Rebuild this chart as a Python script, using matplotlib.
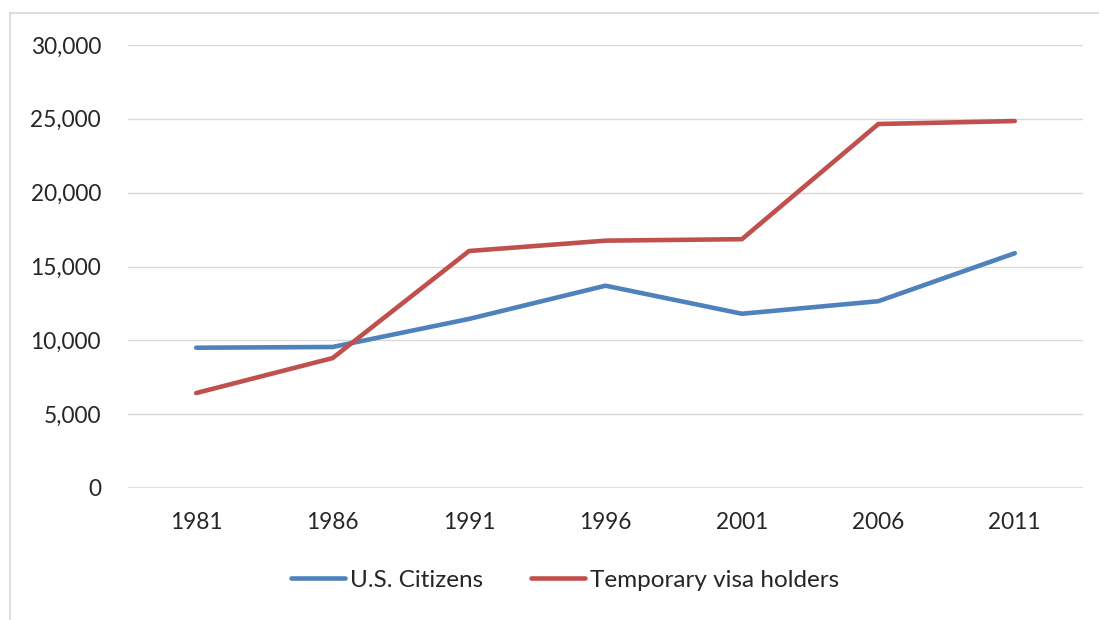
import numpy as np
import matplotlib
matplotlib.use("Agg")
from matplotlib import pyplot as plt
from matplotlib.lines import Line2D
from matplotlib.ticker import FuncFormatter

years = ["1981", "1986", "1991", "1996", "2001", "2006", "2011"]
us_citizens = [9500, 9550, 11450, 13700, 11800, 12650, 15900]
visa_holders = [6430, 8800, 16050, 16750, 16850, 24650, 24850]
series_names = ["U.S. Citizens", "Temporary visa holders"]

plt.rcParams['font.family'] = ['Lato', 'DejaVu Sans']

fig = plt.figure(figsize=(10.99, 6.2), dpi=100)
ax = fig.add_axes([128/1099, 1-488/620, (1083-128)/1099, (488-45)/620])

x = np.arange(len(years))
ax.plot(x, us_citizens, color="#4F81BD", lw=3.3, solid_capstyle="round", label=series_names[0])
ax.plot(x, visa_holders, color="#C0504D", lw=3.3, solid_capstyle="round", label=series_names[1])

ax.set_xlim(-0.5, len(years) - 0.5)
ax.set_ylim(0, 30000)
ax.set_yticks(np.arange(0, 30001, 5000))
ax.yaxis.set_major_formatter(FuncFormatter(lambda v, p: "{:,.0f}".format(v)))
ax.set_xticks(x)
ax.set_xticklabels(years)

for s in ax.spines.values():
    s.set_visible(False)
ax.grid(axis="y", color="#d9d9d9", lw=1.0)
ax.set_axisbelow(True)
ax.axhline(0, color="#d9d9d9", lw=1.8, zorder=1)
ax.tick_params(length=0, labelsize=16.3, colors="#262626")
ax.tick_params(axis="y", pad=19.5)
ax.tick_params(axis="x", pad=17)

ax.legend(loc="center", bbox_to_anchor=(565/1099, 1-580/620), bbox_transform=fig.transFigure,
          ncol=2, frameon=False, fontsize=17.5, handlelength=2.2, handletextpad=0.2,
          columnspacing=2.0, labelcolor="#262626")

# chart border (top and left visible)
fig.add_artist(Line2D([10/1099, 1.0], [1-13/620, 1-13/620], transform=fig.transFigure,
                      color="#d9d9d9", lw=1.2))
fig.add_artist(Line2D([10/1099, 10/1099], [0, 1-13/620], transform=fig.transFigure,
                      color="#d9d9d9", lw=1.2))

fig.savefig("out.png", dpi=100)
